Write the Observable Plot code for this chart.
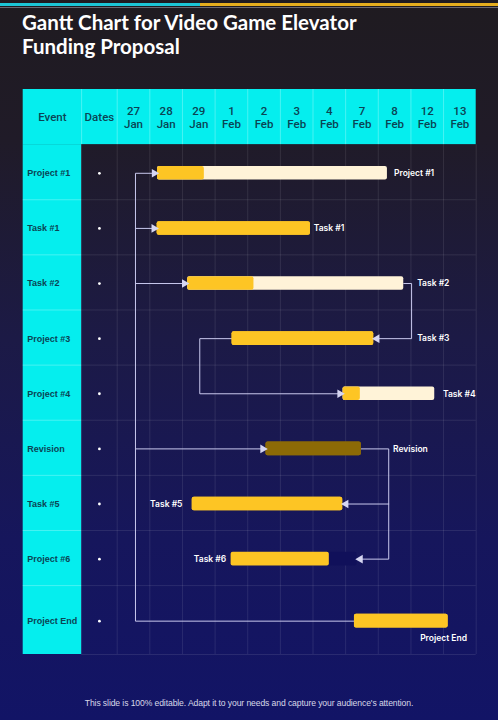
<!DOCTYPE html>
<html>
<head>
<meta charset="utf-8">
<script src="https://cdn.jsdelivr.net/npm/d3@7"></script>
<script src="https://cdn.jsdelivr.net/npm/@observablehq/plot@0.6"></script>
<style>
  html, body { margin: 0; padding: 0; }
  body {
    width: 498px; height: 720px; overflow: hidden; position: relative;
    background: linear-gradient(to bottom, #1f1b20 0px, #201b28 140px, #1c1a46 340px, #16165c 540px, #121466 720px);
    font-family: Lato, "Open Sans", sans-serif;
  }
  #stripe1 { position: absolute; left: 0; top: 3px; width: 200px; height: 3px; background: #1cc6d6; }
  #stripe2 { position: absolute; left: 200px; top: 3px; width: 298px; height: 3px; background: #e6ae1e; }
  #rule { position: absolute; left: 0; top: 7px; width: 498px; height: 1px; background: #6a6870; }
  #title { position: absolute; left: 22px; top: 10px; color: #fff; font: 700 20.5px/24px Lato, sans-serif; letter-spacing: 0px; }
  #chart { position: absolute; left: 0; top: 0; }
  #footer { position: absolute; left: 0; width: 498px; top: 698px; text-align: center; color: #d8d8e8; font: 8.6px/10px "Liberation Sans", Arial, sans-serif; letter-spacing: -0.1px; }
</style>
</head>
<body>
<div id="stripe1"></div><div id="stripe2"></div><div id="rule"></div>
<div id="title">Gantt Chart for Video Game Elevator<br>Funding Proposal</div>
<div id="chart"></div>
<div id="footer">This slide is 100% editable. Adapt it to your needs and capture your audience's attention.</div>
<script>
// ---- data ----
const dates = ["27\nJan","28\nJan","29\nJan","1\nFeb","2\nFeb","3\nFeb","4\nFeb","7\nFeb","8\nFeb","12\nFeb","13\nFeb"];
const events = ["Project #1","Task #1","Task #2","Project #3","Project #4","Revision","Task #5","Project #6","Project End"];
const barLabels = ["Project #1","Task #1","Task #2","Task #3","Task #4","Revision","Task #5","Task #6","Project End"];
// positions in date-column units (0 = left edge of "27 Jan" column)
const barStart = [1.235, 1.225, 2.16, 3.52, 6.92, 4.56, 2.30, 3.49, 7.27];
const barDone  = [2.67, 5.92, 4.19, 7.86, 7.45, 7.48, 6.91, 6.50, 10.14];
const barEnd   = [8.28, 5.92, 8.78, 7.86, 9.73, 7.48, 6.91, 7.35, 10.14];
const barStatus = ["open","done","open","done","open","review","done","hidden","done"];
const labelX = [8.48, 6.02, 9.19, 9.19, 9.98, 8.45, 2.0, 3.34, 10.0];
const labelSide = ["right","right","right","right","right","right","left","left","below"];
// connectors: x in column units, row index per point
const linkX = [[7.27,0.56,0.56,1.235],[0.56,1.225],[0.56,2.16],[0.56,4.56],[8.78,9.02,9.02,7.86],[3.52,2.53,2.53,6.92],[7.48,8.32,8.32,7.35],[8.32,6.91]];
const linkRow = [[8,8,0,0],[1,1],[2,2],[5,5],[2,2,3,3],[3,3,4,4],[5,5,7,7],[6,6]];

// ---- layout ----
const eventLeft = -2.88, datesLeft = -1.09, lastCol = dates.length;
const rowEdges = events.map((_, i) => i).concat([events.length - 1 + 1.25]);
const rowCenter = i => (rowEdges[i] + rowEdges[i + 1]) / 2 + 0.02;
const barHalf = 0.123;

const doneColor = {open:"#fdc524", done:"#fdc524", review:"#8c6a06", hidden:"#fdc524"};
const restColor = {open:"#fff3d8", done:"#fdc524", review:"#8c6a06", hidden:"#10105a"};

const rows = events.map((e, i) => ({
  event: e, label: barLabels[i], y: rowCenter(i),
  start: barStart[i], done: barDone[i], end: barEnd[i],
  doneFill: doneColor[barStatus[i]], restFill: restColor[barStatus[i]],
  lx: labelX[i], side: labelSide[i]
}));
const headers = [{text:"Event", x:(eventLeft+datesLeft)/2}, {text:"Dates", x:datesLeft/2}]
  .concat(dates.map((d, i) => ({text:d, x:i + 0.5})));

const linkPts = [];
const arrows = [];
linkX.forEach((xs, k) => {
  xs.forEach((x, j) => linkPts.push({k, x, y: rowCenter(linkRow[k][j])}));
  const n = xs.length;
  arrows.push({x: xs[n-1], y: rowCenter(linkRow[k][n-1]), dir: xs[n-1] > xs[n-2] ? "right" : "left"});
});

const colLinesBody = d3.range(0, lastCol + 1).concat([datesLeft]);
const colLinesHead = d3.range(0, lastCol).concat([datesLeft]);
const innerRows = rowEdges.slice(1, -1);

const teal = "#0b4454";
const labelFont = "Inter, Roboto, sans-serif";

const chart = Plot.plot({
  width: 498, height: 720, margin: 0,
  x: {domain: [eventLeft, lastCol], range: [22.7, 475.7], axis: null},
  y: {domain: [-1, rowEdges[rowEdges.length-1]], range: [89, 654], axis: null},
  style: {background: "transparent", overflow: "visible"},
  marks: [
    // cyan header + event column
    Plot.rect([0], {x1: () => eventLeft, x2: () => lastCol, y1: () => -1, y2: () => 0, fill: "#05eeee"}),
    Plot.rect([0], {x1: () => eventLeft, x2: () => datesLeft, y1: () => 0, y2: () => rowEdges[rowEdges.length-1], fill: "#05eeee"}),
    // grid
    Plot.ruleX(colLinesHead, {x: d => d, y1: () => -1, y2: () => 0, stroke: "#ffffff", strokeOpacity: 0.4, strokeWidth: 0.7}),
    Plot.ruleX(colLinesBody, {x: d => d, y1: () => 0, y2: () => rowEdges[rowEdges.length-1], stroke: "#ffffff", strokeOpacity: 0.12, strokeWidth: 0.8}),
    Plot.ruleY(innerRows.concat([rowEdges[rowEdges.length-1]]), {y: d => d, x1: () => datesLeft, x2: () => lastCol, stroke: "#ffffff", strokeOpacity: 0.12, strokeWidth: 0.8}),
    Plot.ruleY(innerRows, {y: d => d, x1: () => eventLeft, x2: () => datesLeft, stroke: "#ffffff", strokeOpacity: 0.45, strokeWidth: 0.6}),
    // header text
    Plot.text(headers, {x: "x", y: () => -0.5, text: "text", fill: teal, fontSize: 11.5, lineHeight: 1.12, fontFamily: "Roboto, sans-serif", fontWeight: 500}),
    // event names
    Plot.text(rows, {x: () => eventLeft, y: "y", text: "event", dx: 4, textAnchor: "start", fill: teal, fontSize: 9, fontWeight: 700, fontFamily: "'Liberation Sans', Arial, sans-serif"}),
    // dates dots
    Plot.dot(rows, {x: () => datesLeft / 2, y: "y", r: 1.4, fill: "#ffffff", stroke: null}),
    // connectors
    Plot.line(linkPts, {x: "x", y: "y", z: "k", stroke: "#c9c9ee", strokeWidth: 1, curve: "linear"}),
    // bars
    Plot.rect(rows, {x1: "start", x2: "end", y1: d => d.y - barHalf, y2: d => d.y + barHalf, fill: "restFill", rx: 2}),
    Plot.rect(rows, {x1: "start", x2: "done", y1: d => d.y - barHalf, y2: d => d.y + barHalf, fill: "doneFill", rx: 2}),
    // arrow heads
    Plot.dot(arrows.filter(a => a.dir === "right"), {x: "x", y: "y", symbol: "triangle", r: 3.2, rotate: 90, dx: -3.2, fill: "#d6d6f2", stroke: null}),
    Plot.dot(arrows.filter(a => a.dir === "left"), {x: "x", y: "y", symbol: "triangle", r: 3.2, rotate: -90, dx: 3.2, fill: "#d6d6f2", stroke: null}),
    // bar labels
    Plot.text(rows.filter(d => d.side === "right"), {x: "lx", y: "y", text: "label", textAnchor: "start", fill: "#ffffff", fontSize: 8.5, fontWeight: 600, fontFamily: labelFont}),
    Plot.text(rows.filter(d => d.side === "left"), {x: "lx", y: "y", text: "label", textAnchor: "end", fill: "#ffffff", fontSize: 8.5, fontWeight: 600, fontFamily: labelFont}),
    Plot.text(rows.filter(d => d.side === "below"), {x: "lx", y: "y", dy: 17, text: "label", textAnchor: "middle", fill: "#ffffff", fontSize: 8.5, fontWeight: 600, fontFamily: labelFont})
  ]
});
document.getElementById("chart").appendChild(chart);
</script>
</body>
</html>
